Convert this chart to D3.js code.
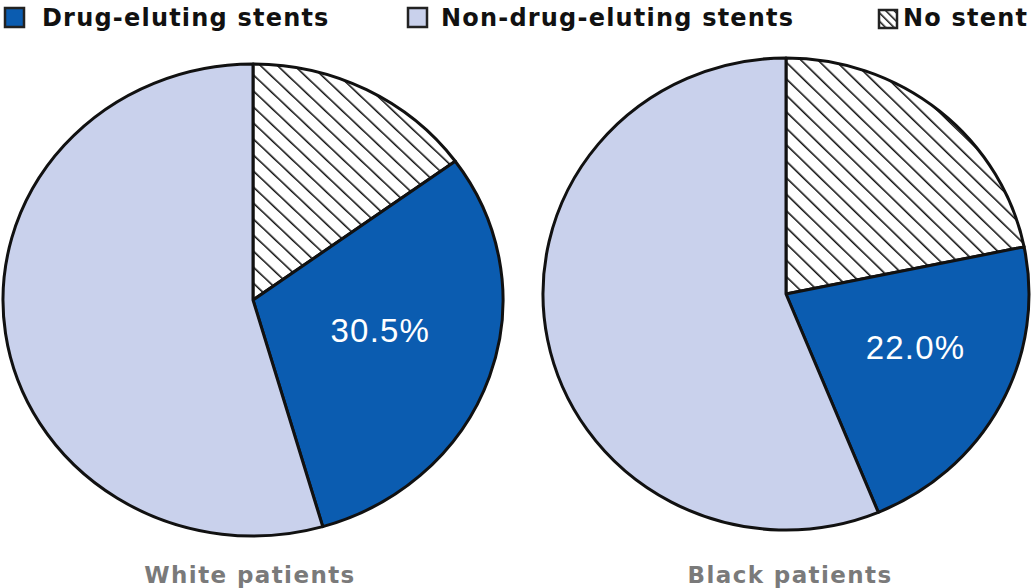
<!DOCTYPE html>
<html>
<head>
<meta charset="utf-8">
<script src="https://cdn.jsdelivr.net/npm/d3@7"></script>
<style>
  html, body { margin: 0; padding: 0; background: #fff; }
  svg { display: block; }
</style>
</head>
<body>
<svg id="chart" width="1032" height="588"></svg>
<script>
// Stent use by race: share of patients in each category
const groups = ["White patients", "Black patients"];
const categories = ["No stent", "Drug-eluting stents", "Non-drug-eluting stents"];
const whiteValues = [15.0, 30.5, 54.5];
const blackValues = [21.8, 22.0, 56.2];
const labelledCategory = "Drug-eluting stents";

const legendOrder = ["Drug-eluting stents", "Non-drug-eluting stents", "No stent"];

const colors = {
  "Drug-eluting stents": "#0b5cb0",
  "Non-drug-eluting stents": "#c9d1ec",
  "No stent": "url(#hatch)"
};

const svg = d3.select("#chart");

// Diagonal hatching for the "No stent" slice
const defs = svg.append("defs");
const pat = defs.append("pattern")
  .attr("id", "hatch")
  .attr("patternUnits", "userSpaceOnUse")
  .attr("width", 12).attr("height", 12)
  .attr("patternTransform", "rotate(-45)");
pat.append("rect").attr("width", 12).attr("height", 12).attr("fill", "#fff");
pat.append("line")
  .attr("x1", 0).attr("y1", 0).attr("x2", 0).attr("y2", 12)
  .attr("stroke", "#111").attr("stroke-width", 3.2);

const legendPat = defs.append("pattern")
  .attr("id", "hatchSmall")
  .attr("patternUnits", "userSpaceOnUse")
  .attr("width", 6).attr("height", 6)
  .attr("patternTransform", "rotate(-45)");
legendPat.append("rect").attr("width", 6).attr("height", 6).attr("fill", "#fff");
legendPat.append("line")
  .attr("x1", 0).attr("y1", 0).attr("x2", 0).attr("y2", 6)
  .attr("stroke", "#111").attr("stroke-width", 3);

// Pie layout: clockwise from 12 o'clock, kept in data order
const pie = d3.pie().sort(null).value(d => d.value);

const pies = [
  { name: groups[0], values: whiteValues, cx: 253, cy: 300, rx: 250, ry: 236, titleX: 250, labelR: 0.525 },
  { name: groups[1], values: blackValues, cx: 786, cy: 294, rx: 243, ry: 236, titleX: 790, labelR: 0.58 }
];

pies.forEach(p => {
  const data = categories.map((c, i) => ({ category: c, value: p.values[i] }));
  const arcs = pie(data);
  const arc = d3.arc().innerRadius(0).outerRadius(p.rx);

  const g = svg.append("g")
    .attr("transform", `translate(${p.cx},${p.cy}) scale(1,${p.ry / p.rx})`);

  g.selectAll("path")
    .data(arcs)
    .join("path")
    .attr("d", arc)
    .attr("fill", d => colors[d.data.category])
    .attr("stroke", "#111")
    .attr("stroke-width", 3)
    .attr("stroke-linejoin", "round")
    .attr("vector-effect", "non-scaling-stroke");

  // Value label on the drug-eluting slice, a little ahead of the slice's middle
  const lab = arcs.find(d => d.data.category === labelledCategory);
  const a = (lab.startAngle + lab.endAngle) / 2 - 0.085;
  const r = p.rx * p.labelR;
  const lx = Math.sin(a) * r;
  const ly = -Math.cos(a) * r * (p.ry / p.rx);
  svg.append("text")
    .attr("x", p.cx + lx)
    .attr("y", p.cy + ly)
    .attr("text-anchor", "middle")
    .attr("dominant-baseline", "central")
    .attr("font-family", "Liberation Sans, Arial, sans-serif")
    .attr("font-size", 33)
    .attr("letter-spacing", 1.2)
    .attr("fill", "#fff")
    .text(lab.data.value.toFixed(1) + "%");

  // Group title beneath the pie
  svg.append("text")
    .attr("x", p.titleX)
    .attr("y", 583)
    .attr("text-anchor", "middle")
    .attr("font-family", "DejaVu Sans, Verdana, sans-serif")
    .attr("font-weight", "bold")
    .attr("font-size", 23)
    .attr("letter-spacing", 1.4)
    .attr("fill", "#7a7a7a")
    .text(p.name);
});

// Legend across the top
const legendPos = [
  { sx: 5, sy: 8, s: 19, tx: 42 },
  { sx: 408, sy: 8, s: 19, tx: 441 },
  { sx: 879, sy: 10, s: 18, tx: 903 }
];
legendOrder.forEach((c, i) => {
  const pos = legendPos[i];
  svg.append("rect")
    .attr("x", pos.sx).attr("y", pos.sy)
    .attr("width", pos.s).attr("height", pos.s)
    .attr("fill", c === "No stent" ? "url(#hatchSmall)" : colors[c])
    .attr("stroke", "#222").attr("stroke-width", 2.5);
  svg.append("text")
    .attr("x", pos.tx).attr("y", 26)
    .attr("font-family", "DejaVu Sans, Verdana, sans-serif")
    .attr("font-weight", "bold")
    .attr("font-size", 24)
    .attr("letter-spacing", 1.2)
    .attr("fill", "#111")
    .text(c);
});
</script>
</body>
</html>
